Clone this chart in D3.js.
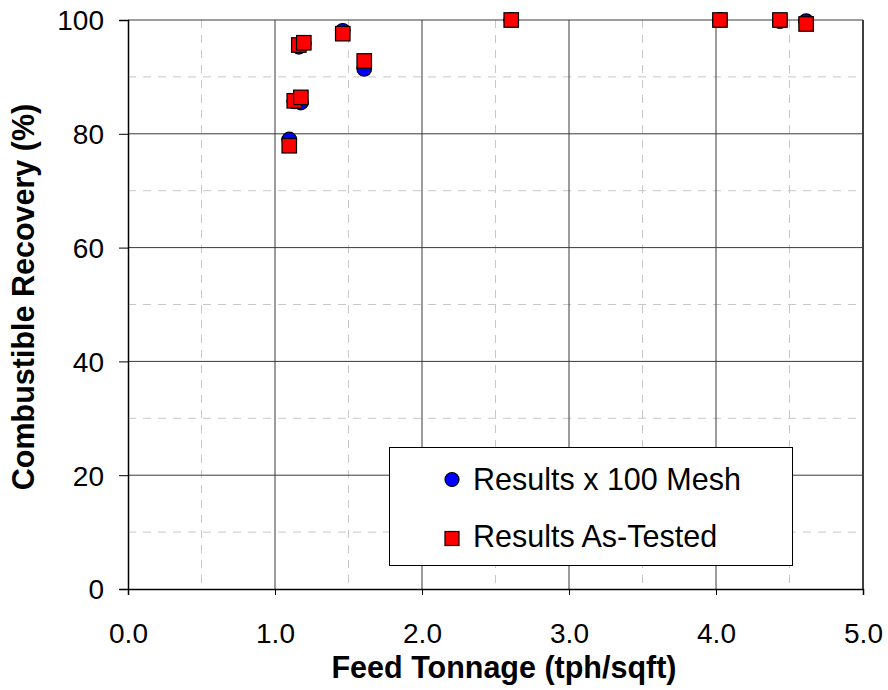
<!DOCTYPE html>
<html>
<head>
<meta charset="utf-8">
<script src="https://cdn.jsdelivr.net/npm/d3@7"></script>
<style>
  html, body { margin: 0; padding: 0; background: #fff; }
  svg { display: block; font-family: Arial, "Liberation Sans", sans-serif; }
</style>
</head>
<body>
<svg id="chart" width="888" height="690"></svg>
<script>
// Feed tonnage (tph/sqft) for each test
const feedTonnage = [1.097, 1.131, 1.162, 1.176, 1.196, 1.461, 1.607, 2.607, 4.027, 4.435, 4.613];
// Combustible recovery (%) on the x 100 mesh basis
const recoveryMesh = [79.0, 85.7, 95.3, 85.5, 95.9, 98.1, 91.4, 100.0, 100.0, 99.8, 99.8];
// Combustible recovery (%) as tested
const recoveryAsTested = [77.9, 85.8, 95.6, 86.4, 96.0, 97.6, 92.8, 100.0, 100.0, 100.0, 99.3];

const xTicks = [0, 1, 2, 3, 4, 5];
const xMinor = [0.5, 1.5, 2.5, 3.5, 4.5];
const yTicks = [0, 20, 40, 60, 80, 100];
const yMinor = [10, 30, 50, 70, 90];

const seriesNames = ["Results x 100 Mesh", "Results As-Tested"];

const svg = d3.select("#chart");
const plotLeft = 128, plotRight = 863, plotTop = 20, plotBottom = 589;

const x = d3.scaleLinear().domain([0, 5]).range([plotLeft, plotRight]);
const y = d3.scaleLinear().domain([0, 100]).range([plotBottom, plotTop]);

// minor dashed grid
const grid = svg.append("g");
grid.selectAll("line.vminor").data(xMinor).join("line")
  .attr("x1", d => x(d)).attr("x2", d => x(d))
  .attr("y1", plotTop).attr("y2", plotBottom)
  .attr("stroke", "#c8c8c8").attr("stroke-width", 1)
  .attr("stroke-dasharray", "8,7");
grid.selectAll("line.hminor").data(yMinor).join("line")
  .attr("x1", plotLeft).attr("x2", plotRight)
  .attr("y1", d => y(d)).attr("y2", d => y(d))
  .attr("stroke", "#c8c8c8").attr("stroke-width", 1)
  .attr("stroke-dasharray", "8,7");

// major solid grid
grid.selectAll("line.vmajor").data(xTicks.slice(1)).join("line")
  .attr("x1", d => x(d)).attr("x2", d => x(d))
  .attr("y1", plotTop).attr("y2", plotBottom)
  .attr("stroke", d => d === 5 ? "#000" : "#3a3a3a")
  .attr("stroke-width", d => d === 5 ? 1.5 : 1);
grid.selectAll("line.hmajor").data(yTicks.slice(1)).join("line")
  .attr("x1", plotLeft).attr("x2", plotRight)
  .attr("y1", d => y(d)).attr("y2", d => y(d))
  .attr("stroke", "#3a3a3a").attr("stroke-width", 1);

// axes
const xAxis = d3.axisBottom(x).tickValues(xTicks).tickSize(6).tickFormat(d3.format(".1f"));
const yAxis = d3.axisLeft(y).tickValues(yTicks).tickSize(9).tickFormat(d3.format("d"));

const gx = svg.append("g").attr("transform", `translate(0,${plotBottom})`).call(xAxis);
gx.select(".domain").attr("stroke", "#000").attr("stroke-width", 1.5);
gx.selectAll(".tick line").attr("stroke", "#000");
gx.selectAll(".tick text")
  .attr("font-size", 28).attr("fill", "#000")
  .attr("dy", null).attr("y", 54)
  .attr("font-family", "Arial, 'Liberation Sans', sans-serif");

const gy = svg.append("g").attr("transform", `translate(${plotLeft},0)`).call(yAxis);
gy.select(".domain").attr("stroke", "#000").attr("stroke-width", 1.5);
gy.selectAll(".tick line").attr("stroke", "#000");
gy.selectAll(".tick text")
  .attr("font-size", 28).attr("fill", "#000")
  .attr("x", -24).attr("dy", "0.35em")
  .attr("font-family", "Arial, 'Liberation Sans', sans-serif");

// axis titles
svg.append("text")
  .attr("x", 504).attr("y", 678)
  .attr("text-anchor", "middle")
  .attr("font-size", 30.5).attr("font-weight", "bold")
  .text("Feed Tonnage (tph/sqft)");
svg.append("text")
  .attr("transform", `translate(34,${297}) rotate(-90)`)
  .attr("text-anchor", "middle")
  .attr("font-size", 30.5).attr("font-weight", "bold")
  .text("Combustible Recovery (%)");

// data points: circles first, squares on top
const meshPts = feedTonnage.map((t, i) => [t, recoveryMesh[i]]);
const testedPts = feedTonnage.map((t, i) => [t, recoveryAsTested[i]]);

svg.append("g").selectAll("circle").data(meshPts).join("circle")
  .attr("cx", d => x(d[0])).attr("cy", d => y(d[1]))
  .attr("r", 7.3)
  .attr("fill", "#0000ff").attr("stroke", "#000").attr("stroke-width", 1.2);

const sq = 14.5;
svg.append("g").selectAll("rect").data(testedPts).join("rect")
  .attr("x", d => x(d[0]) - sq / 2).attr("y", d => y(d[1]) - sq / 2)
  .attr("width", sq).attr("height", sq)
  .attr("fill", "#ff0000").attr("stroke", "#000").attr("stroke-width", 1.2);

// legend
const legend = svg.append("g");
legend.append("rect")
  .attr("x", 389.5).attr("y", 447.5).attr("width", 403).attr("height", 118)
  .attr("fill", "#fff").attr("stroke", "#000").attr("stroke-width", 1);
legend.append("circle")
  .attr("cx", 452).attr("cy", 479.5).attr("r", 7)
  .attr("fill", "#0000ff").attr("stroke", "#000").attr("stroke-width", 1.2);
legend.append("rect")
  .attr("x", 452 - 7).attr("y", 538.5 - 7).attr("width", 14).attr("height", 14)
  .attr("fill", "#ff0000").attr("stroke", "#000").attr("stroke-width", 1.2);
legend.selectAll("text").data(seriesNames).join("text")
  .attr("x", 473).attr("y", (d, i) => 489.5 + i * 57.5)
  .attr("font-size", 30.5).attr("fill", "#000")
  .text(d => d);
</script>
</body>
</html>
